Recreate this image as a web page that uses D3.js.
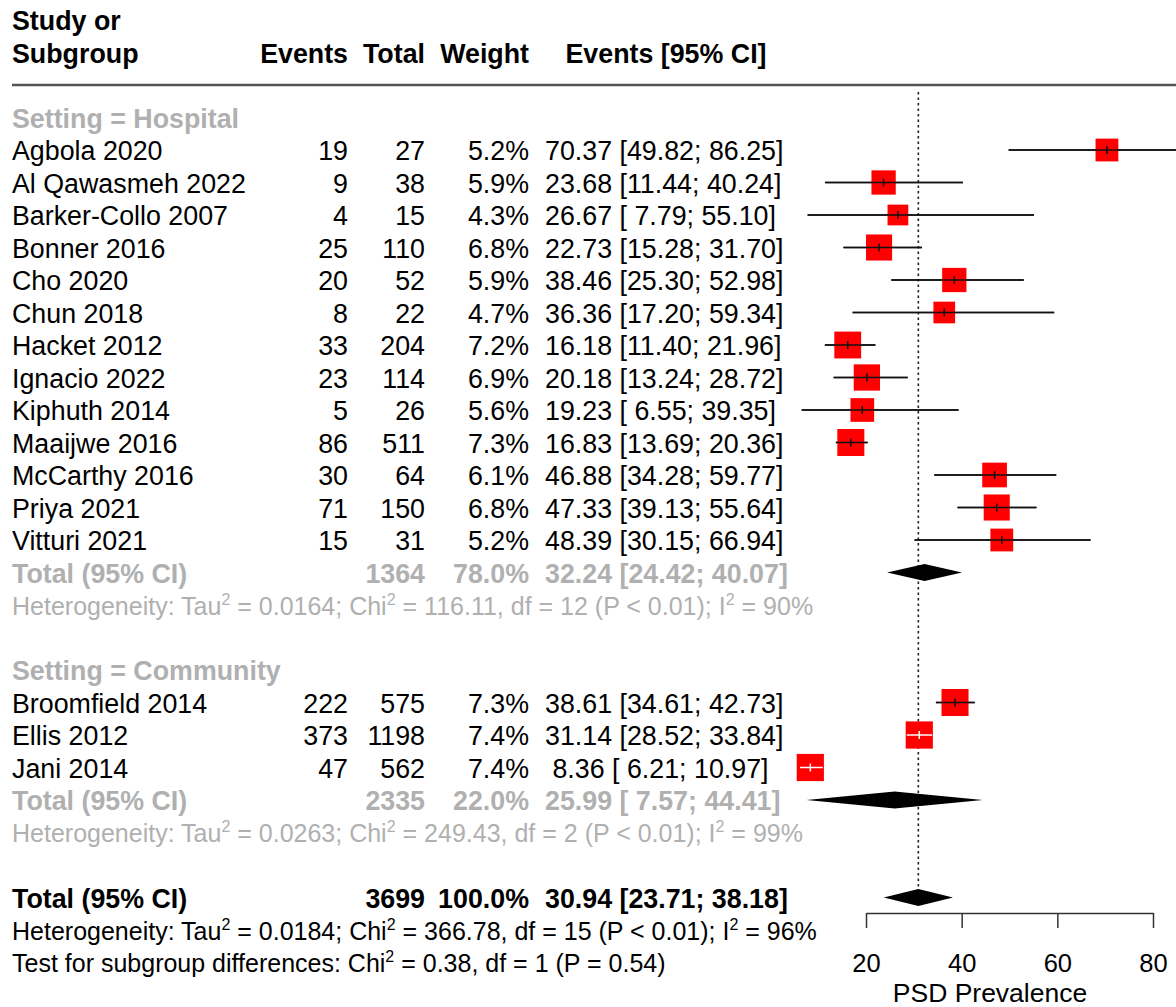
<!DOCTYPE html>
<html>
<head>
<meta charset="utf-8">
<script src="https://cdn.jsdelivr.net/npm/d3@7"></script>
<style>
  body { margin: 0; background: #fff; }
  svg { display: block; font-family: "Liberation Sans", Arial, Helvetica, sans-serif; }
</style>
</head>
<body>
<svg id="chart"></svg>
<script>
const width = 1176;
const height = 1007;

// study-level data
const studies = ["Agbola 2020", "Al Qawasmeh 2022", "Barker-Collo 2007", "Bonner 2016", "Cho 2020",
  "Chun 2018", "Hacket 2012", "Ignacio 2022", "Kiphuth 2014", "Maaijwe 2016", "McCarthy 2016",
  "Priya 2021", "Vitturi 2021", "Broomfield 2014", "Ellis 2012", "Jani 2014"];
const settings = ["Hospital", "Hospital", "Hospital", "Hospital", "Hospital", "Hospital", "Hospital",
  "Hospital", "Hospital", "Hospital", "Hospital", "Hospital", "Hospital", "Community", "Community", "Community"];
const events = [19, 9, 4, 25, 20, 8, 33, 23, 5, 86, 30, 71, 15, 222, 373, 47];
const totals = [27, 38, 15, 110, 52, 22, 204, 114, 26, 511, 64, 150, 31, 575, 1198, 562];
const weights = [5.2, 5.9, 4.3, 6.8, 5.9, 4.7, 7.2, 6.9, 5.6, 7.3, 6.1, 6.8, 5.2, 7.3, 7.4, 7.4];
const est = [70.37, 23.68, 26.67, 22.73, 38.46, 36.36, 16.18, 20.18, 19.23, 16.83, 46.88, 47.33, 48.39, 38.61, 31.14, 8.36];
const lower = [49.82, 11.44, 7.79, 15.28, 25.30, 17.20, 11.40, 13.24, 6.55, 13.69, 34.28, 39.13, 30.15, 34.61, 28.52, 6.21];
const upper = [86.25, 40.24, 55.10, 31.70, 52.98, 59.34, 21.96, 28.72, 39.35, 20.36, 59.77, 55.64, 66.94, 42.73, 33.84, 10.97];

// subgroup pooled results
const groups = ["Hospital", "Community"];
const groupTotals = [1364, 2335];
const groupWeights = [78.0, 22.0];
const groupEst = [32.24, 25.99];
const groupLower = [24.42, 7.57];
const groupUpper = [40.07, 44.41];
const groupTau2 = ["0.0164", "0.0263"];
const groupChi2 = ["116.11", "249.43"];
const groupDf = [12, 2];
const groupI2 = [90, 99];

// overall
const overall = { total: 3699, weight: 100.0, est: 30.94, lower: 23.71, upper: 38.18,
  tau2: "0.0184", chi2: "366.78", df: 15, i2: 96 };
const subgroupTest = { chi2: "0.38", df: 1, p: "0.54" };

const axisTicks = [20, 40, 60, 80];

const GREY = "#b0b0b0";
const FS = 26.8;     // table text
const FS_HET = 25;   // heterogeneity lines

const svg = d3.select("#chart").attr("width", width).attr("height", height);

const x = d3.scaleLinear().domain([20, 80]).range([866, 1153]);
const rowH = 32.5;
const rowY = i => 117.5 + i * rowH;   // row 0 = "Setting = Hospital"

const col = { study: 12, events: 348, total: 425, weight: 529, ci: 545 };

const f2 = d3.format(".2f");
const pad = v => (v < 10 ? " " : "") + f2(v);
const ciText = (e, l, u) => pad(e) + " [" + pad(l) + "; " + pad(u) + "]";

function txt(xp, i, s, opts = {}) {
  return svg.append("text")
    .attr("x", xp).attr("y", rowY(i) + 10)
    .attr("font-size", opts.size || FS)
    .attr("font-weight", opts.bold ? "bold" : "normal")
    .attr("fill", opts.color || "#000")
    .attr("text-anchor", opts.anchor || "start")
    .attr("xml:space", "preserve")
    .style("white-space", "pre")
    .text(s);
}

// text with superscript 2 between the parts
function supText(xp, i, parts, color) {
  const t = svg.append("text").attr("x", xp).attr("y", rowY(i) + 9.5)
    .attr("font-size", FS_HET).attr("fill", color).attr("xml:space", "preserve");
  parts.forEach((p, k) => {
    t.append("tspan").attr("dy", k === 0 ? 0 : 10).text(p);
    if (k < parts.length - 1) t.append("tspan").attr("dy", -10).attr("font-size", 16).text("2");
  });
  return t;
}

// header
txt(col.study, -3, "Study or", { bold: true });
txt(col.study, -2, "Subgroup", { bold: true });
txt(col.events, -2, "Events", { bold: true, anchor: "end" });
txt(col.total, -2, "Total", { bold: true, anchor: "end" });
txt(col.weight, -2, "Weight", { bold: true, anchor: "end" });
txt(666, -2, "Events [95% CI]", { bold: true, anchor: "middle" });

svg.append("line").attr("x1", 12).attr("x2", width).attr("y1", 85).attr("y2", 85)
  .attr("stroke", "#555").attr("stroke-width", 2.5);

// dotted reference line at the overall estimate
svg.append("line").attr("x1", x(overall.est)).attr("x2", x(overall.est))
  .attr("y1", 92).attr("y2", rowY(24) - 9)
  .attr("stroke", "#222").attr("stroke-width", 1.6).attr("stroke-dasharray", "2.5,3");

function diamond(i, e, l, u) {
  const y = rowY(i), h = 8.5;
  svg.append("path")
    .attr("d", `M${x(l)},${y}L${x(e)},${y - h}L${x(u)},${y}L${x(e)},${y + h}Z`)
    .attr("fill", "#000");
}

let row = 0;
groups.forEach((g, gi) => {
  txt(col.study, row, "Setting = " + g, { bold: true, color: GREY });
  row++;
  studies.forEach((s, k) => {
    if (settings[k] !== g) return;
    txt(col.study, row, s);
    txt(col.events, row, String(events[k]), { anchor: "end" });
    txt(col.total, row, String(totals[k]), { anchor: "end" });
    txt(col.weight, row, weights[k].toFixed(1) + "%", { anchor: "end" });
    txt(col.ci, row, ciText(est[k], lower[k], upper[k]));

    const y = rowY(row);
    const side = 10 * Math.sqrt(weights[k]);
    // CI narrower than the square is drawn in white on top of it
    const inside = x(upper[k]) - x(lower[k]) < side;
    const lc = inside ? "#fff" : "#111";
    svg.append("line").attr("x1", x(lower[k])).attr("x2", x(upper[k])).attr("y1", y).attr("y2", y)
      .attr("stroke", "#111").attr("stroke-width", 1.5);
    svg.append("rect").attr("x", x(est[k]) - side / 2).attr("y", y - side / 2)
      .attr("width", side).attr("height", side).attr("fill", "#ff0000");
    svg.append("line").attr("x1", x(lower[k])).attr("x2", x(upper[k])).attr("y1", y).attr("y2", y)
      .attr("stroke", lc).attr("stroke-width", 1.5);
    svg.append("line").attr("x1", x(est[k])).attr("x2", x(est[k])).attr("y1", y - 4).attr("y2", y + 4)
      .attr("stroke", lc).attr("stroke-width", 1.5);
    row++;
  });
  txt(col.study, row, "Total (95% CI)", { bold: true, color: GREY });
  txt(col.total, row, String(groupTotals[gi]), { bold: true, color: GREY, anchor: "end" });
  txt(col.weight, row, groupWeights[gi].toFixed(1) + "%", { bold: true, color: GREY, anchor: "end" });
  txt(col.ci, row, ciText(groupEst[gi], groupLower[gi], groupUpper[gi]), { bold: true, color: GREY });
  diamond(row, groupEst[gi], groupLower[gi], groupUpper[gi]);
  row++;
  supText(col.study, row, ["Heterogeneity: Tau", " = " + groupTau2[gi] + "; Chi", " = " + groupChi2[gi] +
    ", df = " + groupDf[gi] + " (P < 0.01); I", " = " + groupI2[gi] + "%"], GREY);
  row += 2;
});

// overall
txt(col.study, 24, "Total (95% CI)", { bold: true });
txt(col.total, 24, String(overall.total), { bold: true, anchor: "end" });
txt(col.weight, 24, overall.weight.toFixed(1) + "%", { bold: true, anchor: "end" });
txt(col.ci, 24, ciText(overall.est, overall.lower, overall.upper), { bold: true });
diamond(24, overall.est, overall.lower, overall.upper);
supText(col.study, 25, ["Heterogeneity: Tau", " = " + overall.tau2 + "; Chi", " = " + overall.chi2 +
  ", df = " + overall.df + " (P < 0.01); I", " = " + overall.i2 + "%"], "#000");
supText(col.study, 26, ["Test for subgroup differences: Chi", " = " + subgroupTest.chi2 +
  ", df = " + subgroupTest.df + " (P = " + subgroupTest.p + ")"], "#000");

// x axis
const axisG = svg.append("g").attr("transform", "translate(0,913)")
  .call(d3.axisBottom(x).tickValues(axisTicks).tickSize(15).tickPadding(26).tickSizeOuter(0));
axisG.select(".domain").attr("stroke", "#333").attr("stroke-width", 1.5);
axisG.selectAll(".tick line").attr("stroke", "#333").attr("stroke-width", 1.5);
axisG.selectAll(".tick text").attr("font-size", 25.5).attr("fill", "#000")
  .attr("font-family", "\"Liberation Sans\", Arial, sans-serif");

svg.append("text").attr("x", 990).attr("y", 1002).attr("text-anchor", "middle")
  .attr("font-size", 26.5).text("PSD Prevalence");
</script>
</body>
</html>
